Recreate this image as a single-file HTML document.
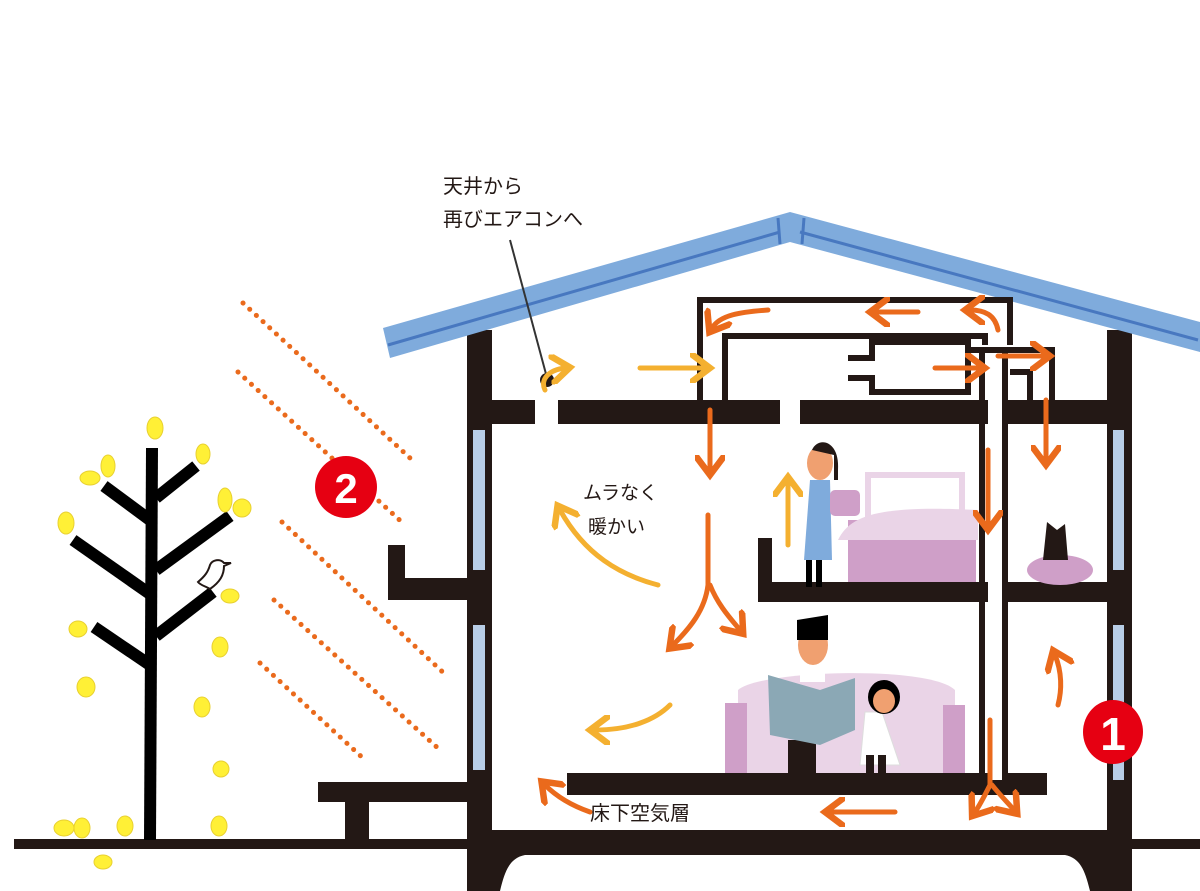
<!DOCTYPE html>
<html><head><meta charset="utf-8"><style>
html,body{margin:0;padding:0;background:#fff}
svg{display:block}
text{font-family:"Liberation Sans","Noto Sans CJK JP",sans-serif;fill:#231815}
</style></head><body>
<svg width="1200" height="891" viewBox="0 0 1200 891" xmlns="http://www.w3.org/2000/svg">
<defs>
<marker id="ao" markerWidth="6" markerHeight="6" refX="3" refY="3" orient="auto" markerUnits="strokeWidth"><path d="M0,0 L4,3 L0,6" fill="none" stroke="#ea6a1c" stroke-width="1.3"/></marker>
<marker id="ay" markerWidth="6" markerHeight="6" refX="3" refY="3" orient="auto" markerUnits="strokeWidth"><path d="M0,0 L4,3 L0,6" fill="none" stroke="#f4b030" stroke-width="1.3"/></marker>
</defs>
<rect x="14" y="839" width="1186" height="10" fill="#231815"/>
<g stroke="#000" stroke-width="12" stroke-linecap="butt">
<line x1="152" y1="448" x2="150" y2="840"/>
<line x1="104" y1="486" x2="150" y2="520"/>
<line x1="196" y1="466" x2="156" y2="498"/>
<line x1="73" y1="540" x2="150" y2="594"/>
<line x1="230" y1="516" x2="156" y2="570"/>
<line x1="213" y1="592" x2="156" y2="636"/>
<line x1="94" y1="627" x2="150" y2="665"/>
</g>
<g fill="#fff036" stroke="#e8d030" stroke-width="1">
<ellipse cx="155" cy="428" rx="8" ry="11"/><ellipse cx="203" cy="454" rx="7" ry="10"/>
<ellipse cx="108" cy="466" rx="7" ry="11"/><ellipse cx="90" cy="478" rx="10" ry="7"/>
<ellipse cx="66" cy="523" rx="8" ry="11"/><ellipse cx="225" cy="500" rx="7" ry="12"/><ellipse cx="242" cy="508" rx="9" ry="9"/>
<ellipse cx="230" cy="596" rx="9" ry="7"/><ellipse cx="78" cy="629" rx="9" ry="8"/><ellipse cx="220" cy="647" rx="8" ry="10"/>
<ellipse cx="86" cy="687" rx="9" ry="10"/><ellipse cx="202" cy="707" rx="8" ry="10"/><ellipse cx="221" cy="769" rx="8" ry="8"/>
<ellipse cx="64" cy="828" rx="10" ry="8"/><ellipse cx="82" cy="828" rx="8" ry="10"/><ellipse cx="125" cy="826" rx="8" ry="10"/>
<ellipse cx="219" cy="826" rx="8" ry="10"/><ellipse cx="103" cy="862" rx="9" ry="7"/>
</g>
<path d="M198,582 C205,576 208,572 210,565 C212,560 220,558 224,563 L231,563 L224,566 C224,575 220,582 210,589 C205,586 200,585 198,582Z" fill="#fff" stroke="#231815" stroke-width="2"/>
<g stroke="#ea6a1c" stroke-width="5" stroke-linecap="round" stroke-dasharray="0.1 9" fill="none">
<line x1="243" y1="303" x2="410" y2="458"/>
<line x1="238" y1="372" x2="405" y2="525"/>
<line x1="282" y1="522" x2="448" y2="677"/>
<line x1="274" y1="600" x2="440" y2="750"/>
<line x1="260" y1="663" x2="365" y2="760"/>
</g>
<g fill="#231815">
<rect x="467" y="330" width="25" height="561"/>
<rect x="1107" y="330" width="25" height="561"/>
<rect x="467" y="400" width="68" height="24"/>
<rect x="558" y="400" width="222" height="24"/>
<rect x="800" y="400" width="332" height="24"/>
<rect x="758" y="582" width="374" height="20"/>
<rect x="758" y="538" width="14" height="64"/>
<rect x="388" y="578" width="104" height="22"/>
<rect x="388" y="545" width="17" height="55"/>
<rect x="567" y="773" width="480" height="22"/>
<rect x="318" y="782" width="174" height="20"/>
<rect x="345" y="800" width="24" height="42"/>
<path d="M467,830 H1132 V891 H1090 C1085,870 1080,858 1065,855 H525 C510,858 505,870 500,891 H467Z"/>
</g>
<g fill="#b8cde6">
<rect x="473" y="430" width="12" height="140"/><rect x="473" y="625" width="12" height="145"/>
<rect x="1113" y="430" width="11" height="140"/><rect x="1113" y="625" width="11" height="155"/>
</g>
<path d="M383,328 L790,212 L1200,322 L1200,352 L790,242 L390,358Z" fill="#7fabdc"/>
<path d="M388,345 L780,232 M800,232 L1198,340" stroke="#4878c0" stroke-width="3" fill="none"/>
<path d="M778,218 L780,244 M804,218 L802,244" stroke="#4878c0" stroke-width="3"/>
<g fill="none" stroke="#231815" stroke-width="6">
<path d="M700,400 V300 H1010 V345"/>
<path d="M725,400 V336 H985 V345"/>
<path d="M848,358 H872 V342 H968 V392 H872 V378 H848"/>
<path d="M968,350 H1052 V400"/>
<path d="M982,352 V790"/>
<path d="M1005,352 V790"/>
<path d="M1010,372 H1030 V400"/>
</g>
<rect x="988" y="400" width="14" height="380" fill="#fff"/>
<rect x="848" y="520" width="128" height="62" fill="#cf9fc8"/>
<path d="M838,540 C850,515 880,505 978,510 V540Z" fill="#ead4e7"/>
<path d="M868,520 V475 H962 V520" fill="none" stroke="#ead4e7" stroke-width="6"/>
<ellipse cx="1060" cy="570" rx="33" ry="15" fill="#cf9fc8"/>
<path d="M1043,560 L1047,522 L1057,530 L1065,524 L1068,560Z" fill="#231815"/>
<rect x="806" y="555" width="6" height="32" fill="#000"/><rect x="816" y="555" width="6" height="32" fill="#000"/>
<path d="M810,480 L830,480 L832,560 L804,560Z" fill="#7fabdc"/>
<ellipse cx="820" cy="463" rx="13" ry="17" fill="#f0a070"/>
<path d="M812,450 C818,436 840,440 838,470 V480 H834 V455Z" fill="#231815"/>
<rect x="830" y="490" width="30" height="26" rx="5" fill="#cf9fc8"/>
<path d="M738,690 C760,670 930,665 955,690 V773 H738Z" fill="#ead4e7"/>
<rect x="725" y="703" width="22" height="70" fill="#cf9fc8"/><rect x="943" y="705" width="22" height="68" fill="#cf9fc8"/>
<rect x="788" y="740" width="28" height="35" fill="#231815"/>
<rect x="800" y="660" width="25" height="22" fill="#fff"/>
<ellipse cx="813" cy="645" rx="15" ry="20" fill="#f0a070"/>
<path d="M797,640 V620 L828,615 V640Z" fill="#000"/>
<path d="M768,675 L820,690 L855,678 V730 L820,745 L770,735Z" fill="#8ba8b5"/>
<path d="M865,712 L882,712 L900,765 L860,765Z" fill="#fff" stroke="#ddd"/>
<rect x="866" y="755" width="8" height="20" fill="#231815"/><rect x="878" y="755" width="8" height="20" fill="#231815"/>
<ellipse cx="884" cy="697" rx="16" ry="17" fill="#000"/><ellipse cx="884" cy="701" rx="11" ry="12" fill="#f0a070"/>
<circle cx="547" cy="380" r="7" fill="#231815"/>
<line x1="510" y1="240" x2="546" y2="374" stroke="#333" stroke-width="2"/>
<g fill="none" stroke="#ea6a1c" stroke-width="5" stroke-linecap="round">
<path d="M768,310 C740,312 720,315 712,328" marker-end="url(#ao)"/>
<path d="M918,312 H875" marker-end="url(#ao)"/>
<path d="M998,330 C995,315 985,310 970,310" marker-end="url(#ao)"/>
<path d="M935,368 H980" marker-end="url(#ao)"/>
<path d="M998,356 H1045" marker-end="url(#ao)"/>
<path d="M710,410 V470" marker-end="url(#ao)"/>
<path d="M1046,400 V460" marker-end="url(#ao)"/>
<path d="M988,450 V525" marker-end="url(#ao)"/>
<path d="M708,515 V585 C705,610 690,628 673,645" marker-end="url(#ao)"/>
<path d="M710,585 C718,605 730,618 740,630" marker-end="url(#ao)"/>
<path d="M1058,705 C1062,690 1062,672 1055,655" marker-end="url(#ao)"/>
<path d="M990,720 V785 C985,795 980,805 975,812" marker-end="url(#ao)"/>
<path d="M992,785 C1000,795 1008,803 1014,810" marker-end="url(#ao)"/>
<path d="M895,812 H830" marker-end="url(#ao)"/>
<path d="M590,812 C570,805 555,795 545,785" marker-end="url(#ao)"/>
</g>
<g fill="none" stroke="#f4b030" stroke-width="5" stroke-linecap="round">
<path d="M640,368 H705" marker-end="url(#ay)"/>
<path d="M545,390 C540,380 548,370 565,368" marker-end="url(#ay)"/>
<path d="M788,545 V482" marker-end="url(#ay)"/>
<path d="M658,585 C620,575 585,555 560,510" marker-end="url(#ay)"/>
<path d="M670,705 C655,720 630,730 595,730" marker-end="url(#ay)"/>
</g>
<circle cx="346" cy="487" r="31" fill="#e60012"/>
<text x="346" y="503" font-size="42" font-weight="bold" text-anchor="middle" style="fill:#fff">2</text>
<ellipse cx="1113" cy="732" rx="30" ry="32" fill="#e60012"/>
<text x="1113" y="750" font-size="46" font-weight="bold" text-anchor="middle" style="fill:#fff">1</text>
<text x="443" y="193" font-size="20">天井から</text>
<text x="443" y="226" font-size="20">再びエアコンへ</text>
<text x="583" y="499" font-size="19">ムラなく</text>
<text x="588" y="533" font-size="19">暖かい</text>
<text x="590" y="820" font-size="20">床下空気層</text>
</svg>
</body></html>
